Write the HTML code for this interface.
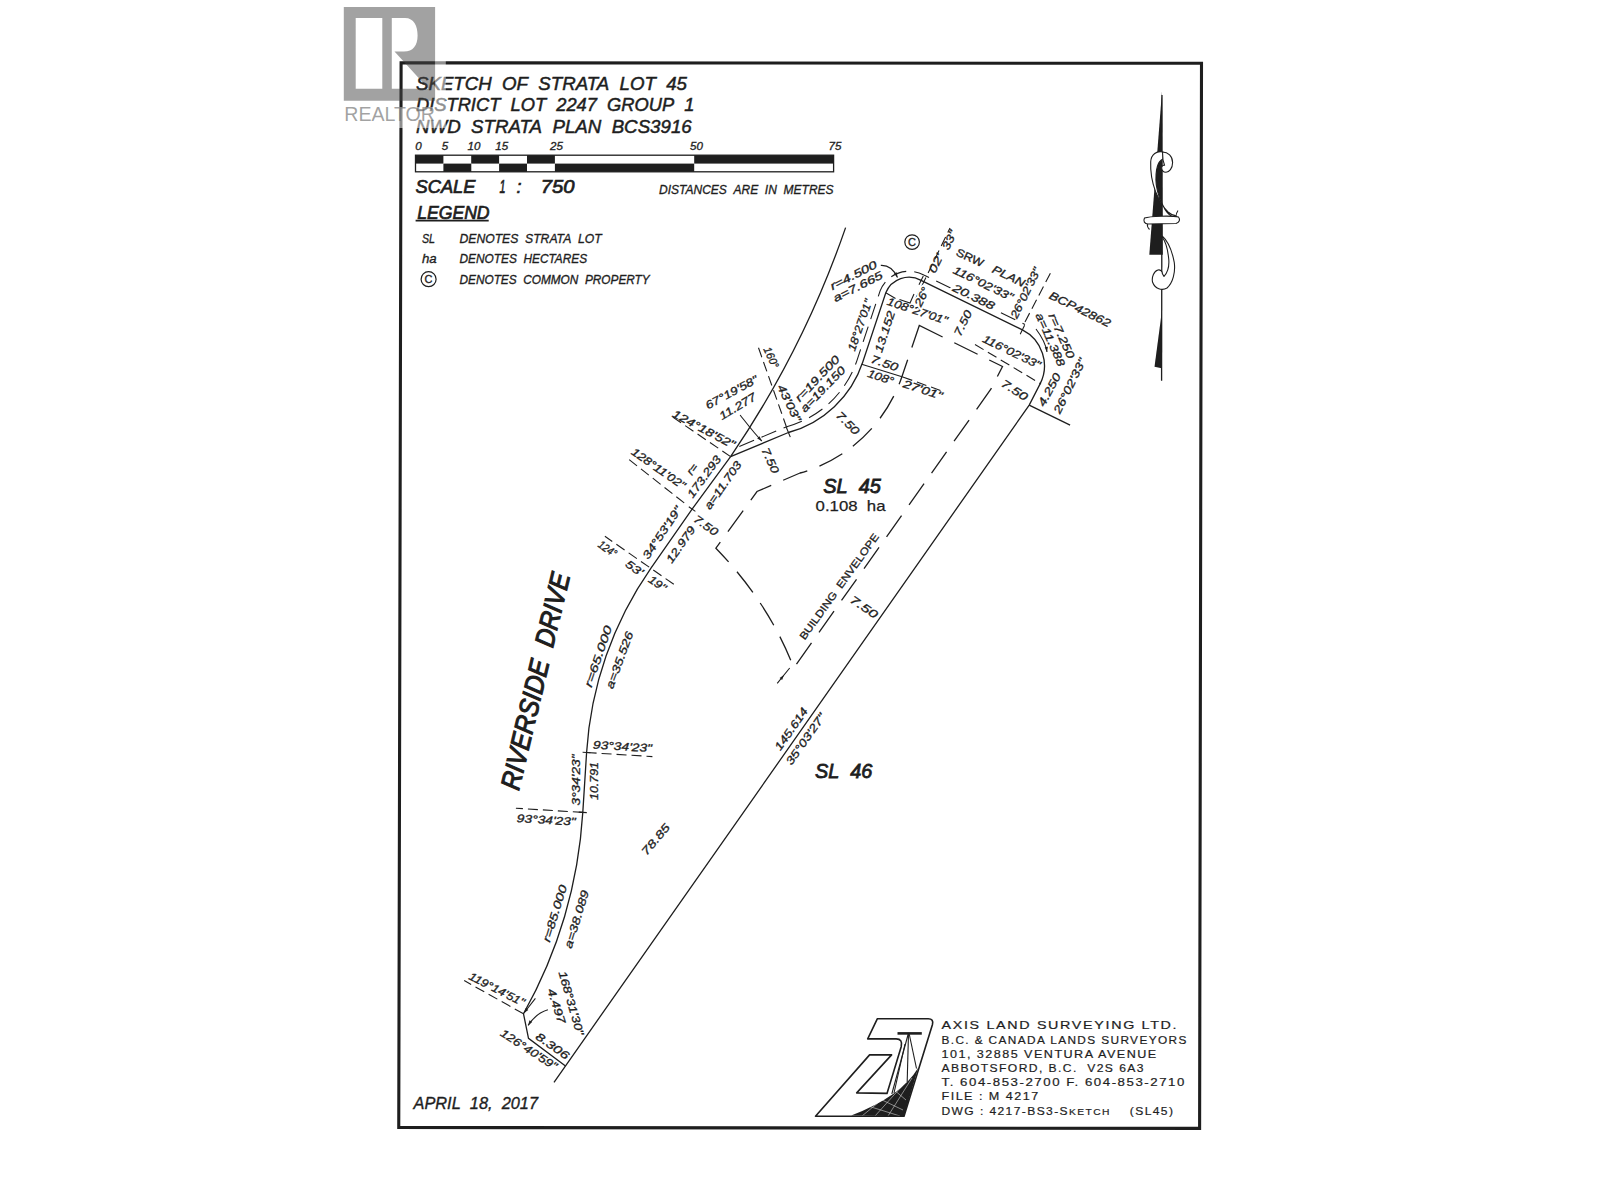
<!DOCTYPE html>
<html><head><meta charset="utf-8"><style>
html,body{margin:0;padding:0;background:#fff;}
svg{display:block;}
text{font-family:"Liberation Sans",sans-serif;fill:#1e1e1e;stroke:#1e1e1e;stroke-width:0.32px;}
.nt{stroke:none;}
.halo{fill:#fff;stroke:#fff;stroke-width:4px;}
.thin{stroke-width:0.25px;}
.comp{letter-spacing:1.3px;stroke:#1e1e1e;stroke-width:0.2px;}
</style></head><body>
<svg width="1600" height="1200" viewBox="0 0 1600 1200">
<rect width="1600" height="1200" fill="#fff"/>
<!-- frame -->
<path d="M401.1,62.8 L1201.5,63.3 L1199.6,1128.4 L398.75,1127.5 Z" fill="none" stroke="#1e1e1e" stroke-width="3.1"/>
<rect x="415.5" y="155.2" width="27.9" height="8.4" fill="#1e1e1e"/>
<rect x="443.4" y="163.6" width="27.9" height="8.2" fill="#1e1e1e"/>
<rect x="471.2" y="155.2" width="27.9" height="8.4" fill="#1e1e1e"/>
<rect x="499.1" y="163.6" width="27.9" height="8.2" fill="#1e1e1e"/>
<rect x="527.0" y="155.2" width="27.9" height="8.4" fill="#1e1e1e"/>
<rect x="554.9" y="163.6" width="139.3" height="8.2" fill="#1e1e1e"/>
<rect x="694.2" y="155.2" width="139.3" height="8.4" fill="#1e1e1e"/>
<rect x="415.5" y="155.2" width="418.1" height="16.6" fill="none" stroke="#1e1e1e" stroke-width="1.3"/>
<line x1="415.6" y1="220.6" x2="488.7" y2="220.6" stroke="#1e1e1e" stroke-width="1.6"/>
<circle cx="428.6" cy="279.2" r="7.5" fill="none" stroke="#1e1e1e" stroke-width="1.2"/>
<text x="428.6" y="283.3" text-anchor="middle" font-size="11" font-style="normal">C</text>
<circle cx="912.1" cy="242.1" r="7.3" fill="none" stroke="#1e1e1e" stroke-width="1.2"/>
<text x="912.1" y="246.2" text-anchor="middle" font-size="11">C</text>
<!-- plan lines -->
<g fill="none" stroke="#1e1e1e" stroke-width="1.3">
<path d="M554.0,1082.3 L1029.2,405.1 L1040.1,383.9 A40.3 40.3 0 0 0 1022.4,329.8 L921.1,280.4 A25.0 25.0 0 0 0 885.8,292.8 L862.7,362.2 A108.4 108.4 0 0 1 788.4,432.5 L730.6,456.6"/>
<path d="M730.6,456.6 L692.1,509.1 L650.8,568.3 A361.4 361.4 0 0 0 586.6,752.5 L582.8,812.4 A472.6 472.6 0 0 1 523.5,1013.8 L528.5,1038.3 L565.5,1065.9"/>
<path d="M730.6,456.6 A963.5 963.5 0 0 0 845.6,227.6"/>
<path d="M1029.2,405.1 L1070.1,425.2"/>
</g>
<g fill="none" stroke="#1e1e1e" stroke-width="1.3" stroke-dasharray="26 13">
<path d="M919.3,325.5 L1002.5,366.5 L991,389 L793.8,668 Q769.1,603.3 715.9,548.2 L757,491.5 L800,473 A150.1 150.1 0 0 0 902.4,375.3 Z"/>
</g>
<g fill="none" stroke="#1e1e1e" stroke-width="1.1" stroke-dasharray="10 5">
<path d="M730.6,456.6 L671.1,416.0 M684.2,502.9 L626.8,457.8 M673.8,584.3 L604.9,536.3 M586.6,752.5 L652.4,756.6 M582.8,812.4 L515.9,808.2 M523.5,1013.8 L464.2,980.6 M758.5,347.8 L788.4,432.5 M915,300 L950,228 M1025,322 L1051,272 M902.8,377 L941.7,390.9 M975,344.5 L1041,384"/>
</g>
<path d="M739.3,446.5 L786.1,426.9 M786.8,426.7 A102.4 102.4 0 0 0 857.0,360.3 L880.1,290.9 A31.0 31.0 0 0 1 923.8,275.0 L1025.0,324.4" fill="none" stroke="#1e1e1e" stroke-width="1.1" stroke-dasharray="16 8"/>
<g fill="none" stroke="#1e1e1e" stroke-width="1.1">
<path d="M861.7,364.2 L902.8,377 M885.8,292.8 L895.5,298.5 M899.5,299.5 L910,303 L914,294 M688.8,506.8 L695.4,511.4 M786.5,427.8 L790.3,437.1 M1024.6,325.3 L1020.2,334.3 M923.3,275.9 L919.0,284.8 M582.6,752.2 L590.5,752.7 M578.8,812.1 L586.8,812.6 M880.8,265.4 C888,265 894,270 897.5,277.5 M740.1,415 C748,425 754,433 761.8,441 M777.2,683.3 L789.7,668 M547.9,1009.8 C540,1012 533,1018 528.1,1025.4 M535.4,998.3 L524,1013 M1036,329 C1042,337 1046,345 1047,352"/>
</g>
<path d="M897.5,277.5 L893.9,273.6 L896.8,272.3 Z" fill="#1e1e1e"/>
<path d="M761.8,441.0 L757.2,438.5 L759.5,436.3 Z" fill="#1e1e1e"/>
<path d="M784.0,675.0 L782.1,679.9 L779.6,677.9 Z" fill="#1e1e1e"/>
<path d="M528.1,1025.4 L529.5,1020.3 L532.2,1022.1 Z" fill="#1e1e1e"/>
<path d="M524.0,1013.0 L525.7,1008.0 L528.3,1010.0 Z" fill="#1e1e1e"/>
<path d="M1047.0,352.0 L1044.7,347.3 L1047.9,346.8 Z" fill="#1e1e1e"/>

<g>
<path d="M1162,91.3 L1162.8,254.7 L1149.3,254.7 Z" fill="#1e1e1e"/>
<line x1="1162" y1="95" x2="1161.6" y2="380.7" stroke="#1e1e1e" stroke-width="1.3"/>
<path d="M1161.8,311.7 L1154.5,366.7 L1161.6,368.3 Z" fill="#1e1e1e"/>
<g fill="#fff" stroke="#1e1e1e" stroke-width="1.1" stroke-linejoin="round">
<path d="M1163,152 C1157,150.5 1151,154 1150.7,162 C1150.3,172 1152,182 1155.5,191.5 C1158.5,199 1163,207 1168,212 C1170.5,214.3 1173,215.2 1175.5,215.5 L1172,216.5 C1168,214 1165,210 1163.5,206.5 C1160,200 1157.5,193 1156.3,185 C1155.6,178 1156,171 1157.5,166 C1158.5,162 1161,160 1163,159 Z"/>
<path d="M1162.5,152 C1168,152 1172.6,156 1172.6,162.5 C1172.6,168.5 1169,172.2 1166,172.2 C1163,172.2 1161.5,170 1161.7,167.5 C1162,165.5 1163.5,164.8 1164.6,165.3 L1163,160 Z"/>
<path d="M1144.5,218 C1150,216 1172,215.5 1178.5,217 C1180.5,219.5 1179.5,222.5 1176,223.5 L1148,224 C1144.5,224 1143,221 1144.5,218 Z"/>
<path d="M1147.5,224 C1147,226 1148,228 1149.5,229.5" fill="none"/>
<path d="M1176,217 C1176,215 1176.5,212.5 1178,210.5" fill="none"/>
<path d="M1161.7,235.3 C1167,240 1172,250 1174.3,262.7 C1175.5,272 1173,283 1167,288 C1162,291 1155,289 1152.5,282 C1151.5,277 1154,271 1158,270 C1160.5,269.5 1162.5,271.5 1162.3,273.5 L1164,276.5 C1168,272 1169.5,264 1168.5,257 C1167.5,248 1165,241 1162.3,237.3 Z"/>
</g>
</g>


<g>
<path d="M851.2,1115.4 Q901.3,1096.4 918.2,1067.7 L904,1116.3 Z" fill="#1e1e1e"/>
<g stroke="#fff" stroke-width="0.6" opacity="0.8">
<line x1="862" y1="1116" x2="890" y2="1093"/><line x1="875" y1="1116" x2="903" y2="1085"/>
<line x1="888" y1="1116" x2="912" y2="1078"/><line x1="868" y1="1106" x2="900" y2="1116"/>
<line x1="880" y1="1099" x2="903" y2="1110"/><line x1="893" y1="1089" x2="906" y2="1100"/>
</g>
<path d="M815.5,1116.3 L869.6,1054.9 L891.6,1054.9 L856.7,1092.9 L887,1093.4 L901.2,1046.7 Q903,1039 896.2,1038.9 L867.7,1038.9 L877.4,1018.7 L928.2,1018.7 Q934,1018.7 932.4,1024.7 L904,1116.3 Z" fill="none" stroke="#1e1e1e" stroke-width="1.6" stroke-linejoin="round"/>
<line x1="897.5" y1="1033.4" x2="921.8" y2="1033.4" stroke="#1e1e1e" stroke-width="2.6"/>
<g stroke="#1e1e1e" stroke-width="1.1">
<line x1="908.5" y1="1033" x2="891.8" y2="1094"/><line x1="908.5" y1="1033" x2="907.2" y2="1082"/>
<line x1="909" y1="1033" x2="916.5" y2="1068.5"/><line x1="905" y1="1044" x2="894" y2="1093"/>
</g>
</g>

<text x="416.0" y="90.3" textLength="271.0" lengthAdjust="spacingAndGlyphs" font-size="19.13" style="stroke-width:0.5px" font-style="italic">SKETCH&#160;&#160;OF&#160;&#160;STRATA&#160;&#160;LOT&#160;&#160;45</text>
<text x="416.0" y="111.2" textLength="278.5" lengthAdjust="spacingAndGlyphs" font-size="19.13" style="stroke-width:0.5px" font-style="italic">DISTRICT&#160;&#160;LOT&#160;&#160;2247&#160;&#160;GROUP&#160;&#160;1</text>
<text x="416.0" y="132.6" textLength="275.7" lengthAdjust="spacingAndGlyphs" font-size="19.13" style="stroke-width:0.5px" font-style="italic">NWD&#160;&#160;STRATA&#160;&#160;PLAN&#160;&#160;BCS3916</text>
<text transform="translate(418.5,146.2)" text-anchor="middle" y="4.15" font-size="11.59" font-style="italic">0</text>
<text transform="translate(445.0,146.2)" text-anchor="middle" y="4.15" font-size="11.59" font-style="italic">5</text>
<text transform="translate(474.0,146.2)" text-anchor="middle" y="4.15" font-size="11.59" font-style="italic">10</text>
<text transform="translate(501.7,146.2)" text-anchor="middle" y="4.15" font-size="11.59" font-style="italic">15</text>
<text transform="translate(556.4,146.2)" text-anchor="middle" y="4.15" font-size="11.59" font-style="italic">25</text>
<text transform="translate(696.4,146.2)" text-anchor="middle" y="4.15" font-size="11.59" font-style="italic">50</text>
<text transform="translate(834.9,146.2)" text-anchor="middle" y="4.15" font-size="11.59" font-style="italic">75</text>
<text x="415.5" y="193.2" textLength="60.0" lengthAdjust="spacingAndGlyphs" font-size="18.44" style="stroke-width:0.7px" font-style="italic">SCALE</text>
<text x="499.5" y="193.2" textLength="6.0" lengthAdjust="spacingAndGlyphs" font-size="18.44" style="stroke-width:0.7px" font-style="italic">1</text>
<text x="516.5" y="193.2" textLength="5.0" lengthAdjust="spacingAndGlyphs" font-size="18.44" style="stroke-width:0.7px" font-style="italic">:</text>
<text x="540.7" y="193.2" textLength="33.7" lengthAdjust="spacingAndGlyphs" font-size="18.44" style="stroke-width:0.7px" font-style="italic">750</text>
<text x="659.0" y="193.7" textLength="174.6" lengthAdjust="spacingAndGlyphs" font-size="12.29" font-style="italic">DISTANCES&#160;&#160;ARE&#160;&#160;IN&#160;&#160;METRES</text>
<text x="417.2" y="218.6" textLength="72.4" lengthAdjust="spacingAndGlyphs" font-size="18.16" style="stroke-width:0.7px" font-style="italic">LEGEND</text>
<text x="422.0" y="243.3" textLength="13.0" lengthAdjust="spacingAndGlyphs" font-size="12.99" style="stroke-width:0.35px" font-style="italic">SL</text>
<text x="459.5" y="243.3" textLength="142.2" lengthAdjust="spacingAndGlyphs" font-size="12.99" style="stroke-width:0.35px" font-style="italic">DENOTES&#160;&#160;STRATA&#160;&#160;LOT</text>
<text x="422.0" y="262.5" textLength="14.7" lengthAdjust="spacingAndGlyphs" font-size="12.99" style="stroke-width:0.35px" font-style="italic">ha</text>
<text x="459.5" y="263.0" textLength="127.6" lengthAdjust="spacingAndGlyphs" font-size="12.99" style="stroke-width:0.35px" font-style="italic">DENOTES&#160;&#160;HECTARES</text>
<text x="459.5" y="284.1" textLength="190.2" lengthAdjust="spacingAndGlyphs" font-size="12.99" style="stroke-width:0.35px" font-style="italic">DENOTES&#160;&#160;COMMON&#160;&#160;PROPERTY</text>
<text x="413.5" y="1108.8" textLength="124.5" lengthAdjust="spacingAndGlyphs" font-size="16.06" style="stroke-width:0.35px" font-style="italic">APRIL&#160;&#160;18,&#160;&#160;2017</text>
<text x="823.3" y="492.5" textLength="57.5" lengthAdjust="spacingAndGlyphs" font-size="19.55" style="stroke-width:0.85px" font-style="italic">SL&#160;&#160;45</text>
<text x="815.6" y="510.6" textLength="69.9" lengthAdjust="spacingAndGlyphs" font-size="15.36" class="thin">0.108&#160;&#160;ha</text>
<text x="815.0" y="778.2" textLength="57.4" lengthAdjust="spacingAndGlyphs" font-size="20.95" style="stroke-width:0.85px" font-style="italic">SL&#160;&#160;46</text>
<text transform="translate(535.0,681.0) rotate(-76.6)" text-anchor="middle" y="9.75" font-size="27.23" style="stroke-width:1.1px" font-style="italic" textLength="222.0" lengthAdjust="spacingAndGlyphs">RIVERSIDE&#160;&#160;DRIVE</text>
<text transform="translate(839.0,586.5) rotate(-54.3)" text-anchor="middle" y="3.70" font-size="10.34" textLength="128.0" lengthAdjust="spacingAndGlyphs">BUILDING&#160;&#160;ENVELOPE</text>
<text transform="translate(864.0,607.0) rotate(35.0)" text-anchor="middle" y="4.00" font-size="11.17" font-style="italic" textLength="31.0" lengthAdjust="spacingAndGlyphs">7.50</text>
<text transform="translate(791.1,728.9) rotate(-55.0)" text-anchor="middle" y="4.00" font-size="11.17" font-style="italic" textLength="49.0" lengthAdjust="spacingAndGlyphs">145.614</text>
<text transform="translate(805.5,739.0) rotate(-55.0)" text-anchor="middle" y="4.00" font-size="11.17" font-style="italic" textLength="60.0" lengthAdjust="spacingAndGlyphs">35&#176;03'27"</text>
<text transform="translate(655.6,839.3) rotate(-49.4)" text-anchor="middle" y="4.00" font-size="11.17" font-style="italic" textLength="37.0" lengthAdjust="spacingAndGlyphs">78.85</text>
<text transform="translate(598.1,656.3) rotate(-71.2)" text-anchor="middle" y="4.00" font-size="11.17" font-style="italic" textLength="64.0" lengthAdjust="spacingAndGlyphs">r=65.000</text>
<text transform="translate(619.4,660.0) rotate(-69.7)" text-anchor="middle" y="4.00" font-size="11.17" font-style="italic" textLength="60.0" lengthAdjust="spacingAndGlyphs">a=35.526</text>
<text transform="translate(594.0,781.0) rotate(-90.0)" text-anchor="middle" y="4.00" font-size="11.17" font-style="italic" textLength="38.0" lengthAdjust="spacingAndGlyphs">10.791</text>
<text transform="translate(575.5,780.0) rotate(-90.0)" text-anchor="middle" y="4.00" font-size="11.17" font-style="italic" textLength="51.0" lengthAdjust="spacingAndGlyphs">3&#176;34'23"</text>
<text transform="translate(622.5,746.3) rotate(3.6)" text-anchor="middle" y="4.00" font-size="11.17" font-style="italic" textLength="59.0" lengthAdjust="spacingAndGlyphs">93&#176;34'23"</text>
<text transform="translate(546.3,819.8) rotate(3.6)" text-anchor="middle" y="4.00" font-size="11.17" font-style="italic" textLength="59.0" lengthAdjust="spacingAndGlyphs">93&#176;34'23"</text>
<text transform="translate(554.6,913.4) rotate(-72.8)" text-anchor="middle" y="4.00" font-size="11.17" font-style="italic" textLength="59.0" lengthAdjust="spacingAndGlyphs">r=85.000</text>
<text transform="translate(576.5,919.1) rotate(-73.1)" text-anchor="middle" y="4.00" font-size="11.17" font-style="italic" textLength="60.0" lengthAdjust="spacingAndGlyphs">a=38.089</text>
<text transform="translate(496.9,989.0) rotate(27.0)" text-anchor="middle" y="4.00" font-size="11.17" font-style="italic" textLength="61.0" lengthAdjust="spacingAndGlyphs">119&#176;14'51"</text>
<text transform="translate(571.4,1003.0) rotate(74.0)" text-anchor="middle" y="4.00" font-size="11.17" font-style="italic" textLength="66.0" lengthAdjust="spacingAndGlyphs">168&#176;31'30"</text>
<text transform="translate(556.7,1006.0) rotate(72.0)" text-anchor="middle" y="4.00" font-size="11.17" font-style="italic" textLength="36.0" lengthAdjust="spacingAndGlyphs">4.497</text>
<text transform="translate(552.6,1045.8) rotate(35.0)" text-anchor="middle" y="4.00" font-size="11.17" font-style="italic" textLength="38.0" lengthAdjust="spacingAndGlyphs">8.306</text>
<text transform="translate(529.0,1049.4) rotate(33.0)" text-anchor="middle" y="4.00" font-size="11.17" font-style="italic" textLength="65.0" lengthAdjust="spacingAndGlyphs">126&#176;40'59"</text>
<text transform="translate(607.7,548.8) rotate(35.0)" text-anchor="middle" y="4.00" font-size="11.17" font-style="italic" textLength="20.0" lengthAdjust="spacingAndGlyphs">124&#176;</text>
<text transform="translate(634.5,568.0) rotate(35.0)" text-anchor="middle" y="4.00" font-size="11.17" font-style="italic" textLength="19.0" lengthAdjust="spacingAndGlyphs">53'</text>
<text transform="translate(657.5,583.3) rotate(35.0)" text-anchor="middle" y="4.00" font-size="11.17" font-style="italic" textLength="19.0" lengthAdjust="spacingAndGlyphs">19"</text>
<text transform="translate(662.0,532.5) rotate(-56.0)" text-anchor="middle" y="4.00" font-size="11.17" font-style="italic" textLength="61.0" lengthAdjust="spacingAndGlyphs">34&#176;53'19"</text>
<text transform="translate(680.6,544.5) rotate(-55.0)" text-anchor="middle" y="4.00" font-size="11.17" font-style="italic" textLength="42.0" lengthAdjust="spacingAndGlyphs">12.979</text>
<text transform="translate(658.5,468.3) rotate(35.0)" text-anchor="middle" y="4.00" font-size="11.17" font-style="italic" textLength="63.0" lengthAdjust="spacingAndGlyphs">128&#176;11'02"</text>
<text transform="translate(692.1,469.3) rotate(-54.0)" text-anchor="middle" y="4.00" font-size="11.17" font-style="italic" textLength="11.0" lengthAdjust="spacingAndGlyphs">r=</text>
<text transform="translate(704.0,476.5) rotate(-54.0)" text-anchor="middle" y="4.00" font-size="11.17" font-style="italic" textLength="49.0" lengthAdjust="spacingAndGlyphs">173.293</text>
<text transform="translate(722.8,485.1) rotate(-55.0)" text-anchor="middle" y="4.00" font-size="11.17" font-style="italic" textLength="56.0" lengthAdjust="spacingAndGlyphs">a=11.703</text>
<text transform="translate(706.0,525.3) rotate(35.0)" text-anchor="middle" y="4.00" font-size="11.17" font-style="italic" textLength="27.0" lengthAdjust="spacingAndGlyphs">7.50</text>
<text transform="translate(770.5,460.4) rotate(66.0)" text-anchor="middle" y="4.00" font-size="11.17" font-style="italic" textLength="27.0" lengthAdjust="spacingAndGlyphs">7.50</text>
<text transform="translate(771.5,357.5) rotate(66.0)" text-anchor="middle" y="4.00" font-size="11.17" font-style="italic" textLength="22.0" lengthAdjust="spacingAndGlyphs">160&#176;</text>
<text transform="translate(789.4,403.0) rotate(64.0)" text-anchor="middle" y="4.00" font-size="11.17" font-style="italic" textLength="40.0" lengthAdjust="spacingAndGlyphs">43'03"</text>
<text transform="translate(731.5,392.2) rotate(-28.5)" text-anchor="middle" y="4.00" font-size="11.17" font-style="italic" textLength="58.0" lengthAdjust="spacingAndGlyphs">67&#176;19'58"</text>
<text transform="translate(737.5,406.3) rotate(-31.0)" text-anchor="middle" y="4.00" font-size="11.17" font-style="italic" textLength="41.0" lengthAdjust="spacingAndGlyphs">11.277</text>
<text transform="translate(703.9,429.0) rotate(28.0)" text-anchor="middle" y="4.00" font-size="11.17" font-style="italic" textLength="69.0" lengthAdjust="spacingAndGlyphs">124&#176;18'52"</text>
<text transform="translate(817.2,378.5) rotate(-46.4)" text-anchor="middle" y="4.00" font-size="11.17" font-style="italic" textLength="59.0" lengthAdjust="spacingAndGlyphs">r=19.500</text>
<text transform="translate(822.7,389.1) rotate(-45.7)" text-anchor="middle" y="4.00" font-size="11.17" font-style="italic" textLength="59.0" lengthAdjust="spacingAndGlyphs" class="halo">a=19.150</text>
<text transform="translate(822.7,389.1) rotate(-45.7)" text-anchor="middle" y="4.00" font-size="11.17" font-style="italic" textLength="59.0" lengthAdjust="spacingAndGlyphs">a=19.150</text>
<text transform="translate(859.8,325.0) rotate(-71.0)" text-anchor="middle" y="4.00" font-size="11.17" font-style="italic" textLength="54.0" lengthAdjust="spacingAndGlyphs" class="halo">18&#176;27'01"</text>
<text transform="translate(859.8,325.0) rotate(-71.0)" text-anchor="middle" y="4.00" font-size="11.17" font-style="italic" textLength="54.0" lengthAdjust="spacingAndGlyphs">18&#176;27'01"</text>
<text transform="translate(884.7,331.6) rotate(-71.5)" text-anchor="middle" y="4.00" font-size="11.17" font-style="italic" textLength="43.0" lengthAdjust="spacingAndGlyphs">13.152</text>
<text transform="translate(853.3,275.2) rotate(-27.0)" text-anchor="middle" y="4.00" font-size="11.17" font-style="italic" textLength="51.0" lengthAdjust="spacingAndGlyphs">r=4.500</text>
<text transform="translate(857.7,286.5) rotate(-27.0)" text-anchor="middle" y="4.00" font-size="11.17" font-style="italic" textLength="54.0" lengthAdjust="spacingAndGlyphs" class="halo">a=7.665</text>
<text transform="translate(857.7,286.5) rotate(-27.0)" text-anchor="middle" y="4.00" font-size="11.17" font-style="italic" textLength="54.0" lengthAdjust="spacingAndGlyphs">a=7.665</text>
<text transform="translate(884.6,363.0) rotate(19.0)" text-anchor="middle" y="4.00" font-size="11.17" font-style="italic" textLength="28.0" lengthAdjust="spacingAndGlyphs">7.50</text>
<text transform="translate(880.8,377.0) rotate(19.0)" text-anchor="middle" y="4.00" font-size="11.17" font-style="italic" textLength="27.0" lengthAdjust="spacingAndGlyphs">108&#176;</text>
<text transform="translate(847.9,423.0) rotate(45.0)" text-anchor="middle" y="4.00" font-size="11.17" font-style="italic" textLength="28.0" lengthAdjust="spacingAndGlyphs">7.50</text>
<text transform="translate(917.5,310.8) rotate(18.5)" text-anchor="middle" y="4.00" font-size="11.17" font-style="italic" textLength="63.0" lengthAdjust="spacingAndGlyphs">108&#176;27'01"</text>
<text transform="translate(922.9,389.6) rotate(18.5)" text-anchor="middle" y="4.00" font-size="11.17" font-style="italic" textLength="41.0" lengthAdjust="spacingAndGlyphs">27'01"</text>
<text transform="translate(921.7,296.7) rotate(-64.0)" text-anchor="middle" y="4.00" font-size="11.17" font-style="italic" textLength="20.0" lengthAdjust="spacingAndGlyphs" class="halo">26&#176;</text>
<text transform="translate(921.7,296.7) rotate(-64.0)" text-anchor="middle" y="4.00" font-size="11.17" font-style="italic" textLength="20.0" lengthAdjust="spacingAndGlyphs">26&#176;</text>
<text transform="translate(935.8,263.3) rotate(-64.0)" text-anchor="middle" y="4.00" font-size="11.17" font-style="italic" textLength="20.0" lengthAdjust="spacingAndGlyphs">02'</text>
<text transform="translate(949.2,240.0) rotate(-64.0)" text-anchor="middle" y="4.00" font-size="11.17" font-style="italic" textLength="20.0" lengthAdjust="spacingAndGlyphs">33"</text>
<text transform="translate(970.0,257.5) rotate(25.0)" text-anchor="middle" y="4.00" font-size="11.17" textLength="29.0" lengthAdjust="spacingAndGlyphs">SRW</text>
<text transform="translate(1008.8,276.0) rotate(26.0)" text-anchor="middle" y="4.00" font-size="11.17" font-style="italic" textLength="35.0" lengthAdjust="spacingAndGlyphs">PLAN</text>
<text transform="translate(983.3,283.3) rotate(26.0)" text-anchor="middle" y="4.00" font-size="11.17" font-style="italic" textLength="65.0" lengthAdjust="spacingAndGlyphs" class="halo">116&#176;02'33"</text>
<text transform="translate(983.3,283.3) rotate(26.0)" text-anchor="middle" y="4.00" font-size="11.17" font-style="italic" textLength="65.0" lengthAdjust="spacingAndGlyphs">116&#176;02'33"</text>
<text transform="translate(973.8,296.7) rotate(26.0)" text-anchor="middle" y="4.00" font-size="11.17" font-style="italic" textLength="45.0" lengthAdjust="spacingAndGlyphs" class="halo">20.388</text>
<text transform="translate(973.8,296.7) rotate(26.0)" text-anchor="middle" y="4.00" font-size="11.17" font-style="italic" textLength="45.0" lengthAdjust="spacingAndGlyphs">20.388</text>
<text transform="translate(1025.4,292.9) rotate(-64.0)" text-anchor="middle" y="4.00" font-size="11.17" font-style="italic" textLength="55.0" lengthAdjust="spacingAndGlyphs">26&#176;02'33"</text>
<text transform="translate(1080.0,309.0) rotate(26.0)" text-anchor="middle" y="4.00" font-size="11.17" font-style="italic" textLength="67.0" lengthAdjust="spacingAndGlyphs">BCP42862</text>
<text transform="translate(1050.5,339.5) rotate(66.0)" text-anchor="middle" y="4.00" font-size="11.17" font-style="italic" textLength="57.0" lengthAdjust="spacingAndGlyphs">a=11.388</text>
<text transform="translate(1061.7,335.8) rotate(66.0)" text-anchor="middle" y="4.00" font-size="11.17" font-style="italic" textLength="48.0" lengthAdjust="spacingAndGlyphs">r=7.250</text>
<text transform="translate(1011.7,351.7) rotate(26.0)" text-anchor="middle" y="4.00" font-size="11.17" font-style="italic" textLength="63.0" lengthAdjust="spacingAndGlyphs">116&#176;02'33"</text>
<text transform="translate(1014.6,390.0) rotate(33.0)" text-anchor="middle" y="4.00" font-size="11.17" font-style="italic" textLength="29.0" lengthAdjust="spacingAndGlyphs">7.50</text>
<text transform="translate(1049.2,389.6) rotate(-62.0)" text-anchor="middle" y="4.00" font-size="11.17" font-style="italic" textLength="36.0" lengthAdjust="spacingAndGlyphs">4.250</text>
<text transform="translate(1069.6,385.8) rotate(-64.0)" text-anchor="middle" y="4.00" font-size="11.17" font-style="italic" textLength="60.0" lengthAdjust="spacingAndGlyphs">26&#176;02'33"</text>
<text transform="translate(962.8,323.0) rotate(-64.0)" text-anchor="middle" y="4.00" font-size="11.17" font-style="italic" textLength="27.0" lengthAdjust="spacingAndGlyphs">7.50</text>
<text x="941.5" y="1029.3" textLength="236.7" lengthAdjust="spacingAndGlyphs" font-size="11.17" class="nt comp">AXIS LAND SURVEYING LTD.</text>
<text x="941.5" y="1043.9" textLength="246.2" lengthAdjust="spacingAndGlyphs" font-size="11.17" class="nt comp">B.C. &amp; CANADA LANDS SURVEYORS</text>
<text x="941.5" y="1057.6" textLength="216.2" lengthAdjust="spacingAndGlyphs" font-size="11.17" class="nt comp">101, 32885 VENTURA AVENUE</text>
<text x="941.5" y="1071.9" textLength="203.4" lengthAdjust="spacingAndGlyphs" font-size="11.17" class="nt comp">ABBOTSFORD, B.C.&#160;&#160;V2S 6A3</text>
<text x="941.5" y="1086.2" textLength="244.4" lengthAdjust="spacingAndGlyphs" font-size="11.17" class="nt comp">T. 604-853-2700 F. 604-853-2710</text>
<text x="941.5" y="1100.4" textLength="98.2" lengthAdjust="spacingAndGlyphs" font-size="11.17" class="nt comp">FILE : M 4217</text>
<text x="941.5" y="1114.5" textLength="232.9" lengthAdjust="spacingAndGlyphs" font-size="11.17" class="nt comp">DWG : 4217-BS3-S<tspan font-size="9.5">KETCH</tspan>&#160;&#160;&#160;&#160;(SL45)</text>

<g>
<path fill="rgba(255,255,255,0.5)" d="M434.9,0 H445.8 V128 H343 V107 H434.9 Z"/>
<path fill-rule="evenodd" fill="rgba(70,70,70,0.5)" d="M343.8,7 H435.1 V100.8 H343.8 Z M355.7,17.9 H382.3 V88.8 H355.7 Z M391.8,17.9 H405 C414,17.9 417.6,26 417.6,35.5 C417.6,45.5 413,51.6 404,51.6 H394.5 L428.5,88.8 H391.8 Z"/>
<text class="nt" transform="translate(344.3,121.3) scale(1,1.45)" x="0" y="0" textLength="90.7" lengthAdjust="spacingAndGlyphs" font-size="13.5" style="fill:rgba(100,100,100,0.6)">REALTOR</text>
</g>

</svg>
</body></html>
